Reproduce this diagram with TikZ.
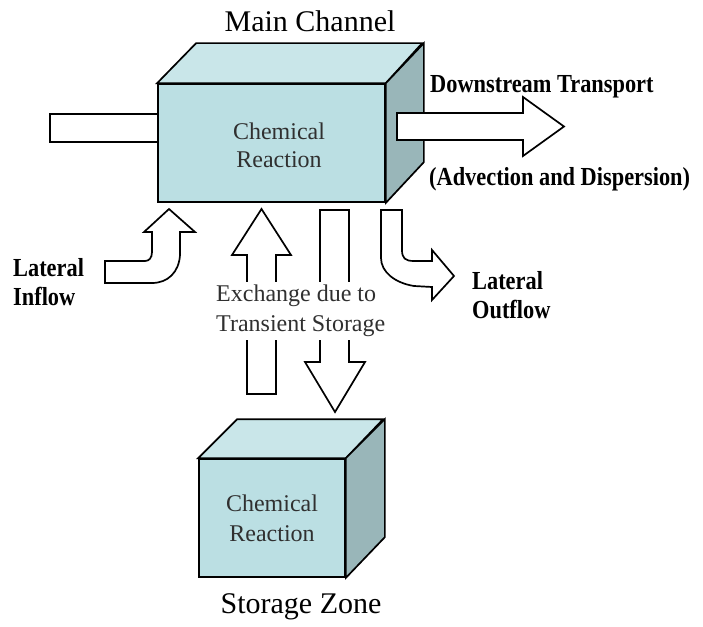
\documentclass[tikz,border=0pt]{standalone}
\usepackage{fontspec}
\setmainfont{Liberation Serif}
\newfontfamily\condserif[FakeStretch=0.86]{Liberation Serif}
\usepackage{tikz}
\usetikzlibrary{calc}
\definecolor{FaceFront}{HTML}{BBDFE3}
\definecolor{FaceTop}{HTML}{C9E6E9}
\definecolor{FaceSide}{HTML}{99B6B9}
\definecolor{InkGray}{HTML}{303030}

\begin{document}
\begin{tikzpicture}[x=1pt,y=-1pt,every node/.style={inner sep=0pt},
  face/.style={draw=black,line width=1.7pt,line join=miter},
  blockarrow/.style={draw=black,fill=white,line width=1.7pt,line join=miter},
  boxtext/.style={text=InkGray,align=center,font=\fontsize{24}{28}\selectfont},
  sidelabel/.style={align=left,font=\condserif\bfseries\fontsize{26}{29}\selectfont},
  zonetitle/.style={anchor=base,font=\fontsize{30}{34}\selectfont}]
  \useasboundingbox (0,0) rectangle (703,626);

  % main channel
  \draw[blockarrow] (50,114) rectangle (158,142);
  \node[face,fill=FaceFront,minimum width=227pt,minimum height=118pt] (mainfront) at (271.5,143) {};
  \draw[face,fill=FaceTop] (mainfront.north west) -- ++(39,-40) -- ++(226,0) -- (mainfront.north east) -- cycle;
  \draw[face,fill=FaceSide] (mainfront.north east) -- ++(38,-40) -- ++(0,119) -- (mainfront.south east) -- cycle;
  \node[boxtext] (maintext) at (279,145) {Chemical\\Reaction};
  \node[zonetitle] (maintitle) at (310,32) {Main Channel};

  % downstream transport
  \draw[blockarrow] (397,113) -- (523,113) -- (523,97) -- (564,126.5) -- (523,156) -- (523,140) -- (397,140) -- cycle;
  \node[sidelabel,anchor=base west] (downlabel) at (430,92) {Downstream Transport};
  \node[sidelabel,anchor=base west] (advlabel) at (429,185) {(Advection and Dispersion)};

  % lateral inflow and outflow
  \draw[blockarrow] (169,209) -- (195,232) -- (180,232) -- (180,255) .. controls (179,272) and (168,283) .. (152,283)
    -- (105,283) -- (105,261) -- (145,261) .. controls (149,261) and (152,258) .. (152,252) -- (152,232) -- (144,232) -- cycle;
  \node[sidelabel,anchor=west] (inlabel) at (13,282) {Lateral\\Inflow};
  \draw[blockarrow] (381,210) -- (402,210) -- (402,250) .. controls (402,258) and (405,261) .. (414,261) -- (432,261)
    -- (432,250) -- (454,276) -- (432,300) -- (432,287) -- (414,286) .. controls (395,283) and (381,272) .. (381,258) -- cycle;
  \node[sidelabel,anchor=west] (outlabel) at (472,295) {Lateral\\Outflow};

  % exchange with storage zone
  \draw[blockarrow] (261.5,209) -- (291,255) -- (276,255) -- (276,394) -- (247,394) -- (247,255) -- (232,255) -- cycle;
  \draw[blockarrow] (320,210) -- (349,210) -- (349,362) -- (365,362) -- (335,412) -- (305,362) -- (320,362) -- cycle;
  \node[fill=white,text=InkGray,align=left,inner sep=3pt,font=\fontsize{24}{30}\selectfont,anchor=west] (exchange) at (213,311) {Exchange due to\\Transient Storage};

  % storage zone
  \node[face,fill=FaceFront,minimum width=146pt,minimum height=118pt] (storefront) at (272,518) {};
  \draw[face,fill=FaceTop] (storefront.north west) -- ++(39,-39) -- ++(146,0) -- (storefront.north east) -- cycle;
  \draw[face,fill=FaceSide] (storefront.north east) -- ++(39,-39) -- ++(0,118) -- (storefront.south east) -- cycle;
  \node[boxtext,font=\fontsize{24}{30}\selectfont] (storetext) at (272,518) {Chemical\\Reaction};
  \node[zonetitle] (storetitle) at (301,613) {Storage Zone};
\end{tikzpicture}
\end{document}
